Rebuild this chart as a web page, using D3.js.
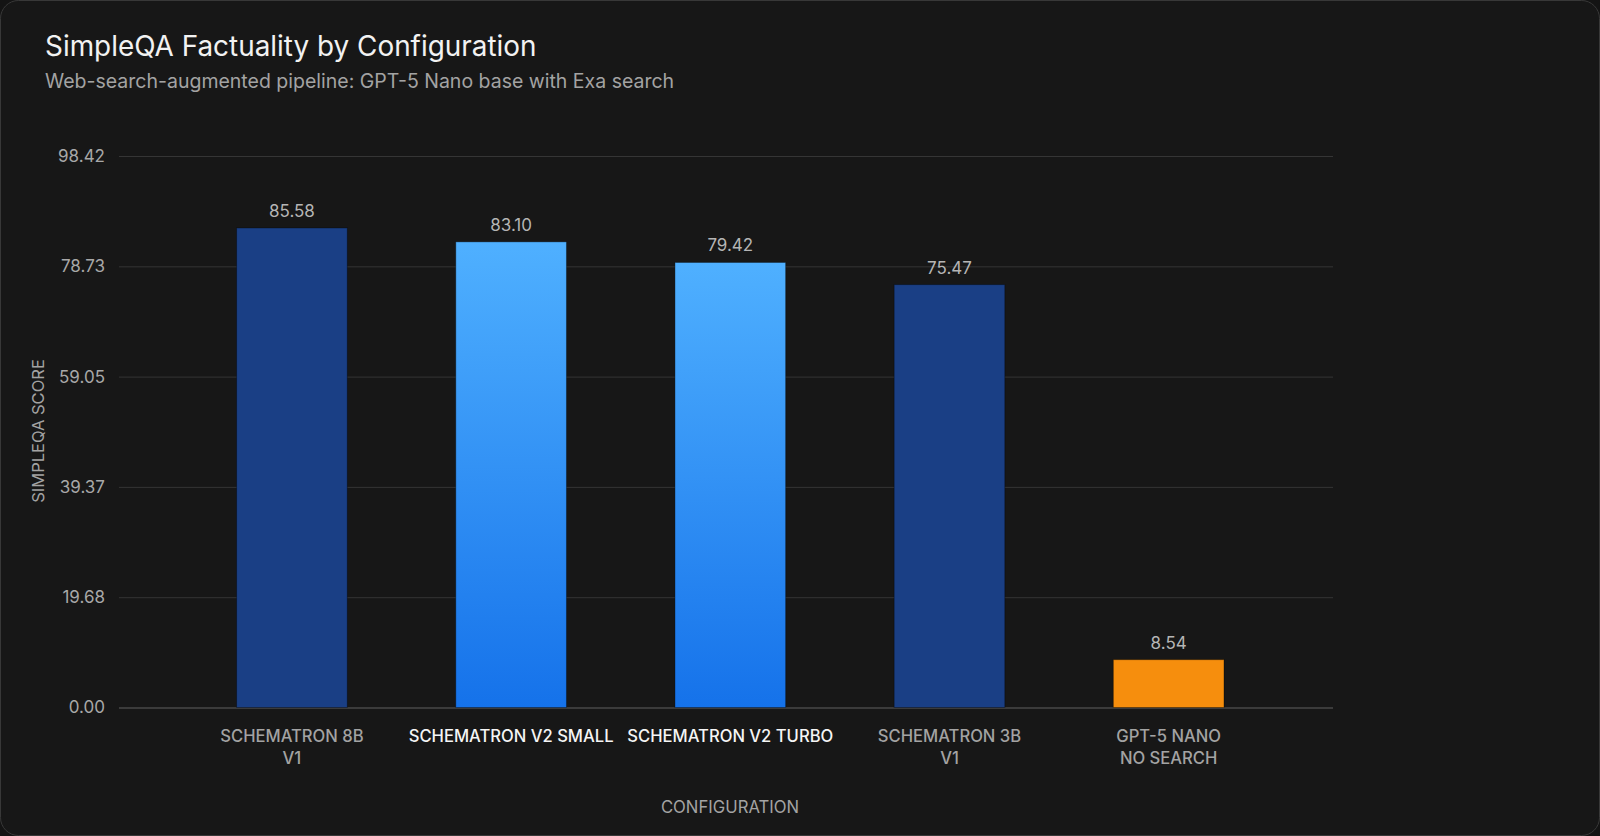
<!DOCTYPE html>
<html>
<head>
<meta charset="utf-8">
<script src="https://cdn.jsdelivr.net/npm/d3@7"></script>
<style>
  html, body { margin: 0; padding: 0; background: #141414; }
  svg { display: block; font-family: Inter, "Noto Sans", sans-serif; }
</style>
</head>
<body>
<svg id="chart" width="1600" height="836"></svg>
<script>
// chart data
var configs = ['SCHEMATRON 8B|V1', 'SCHEMATRON V2 SMALL', 'SCHEMATRON V2 TURBO', 'SCHEMATRON 3B|V1', 'GPT-5 NANO|NO SEARCH'];
var scores = [85.58, 83.10, 79.42, 75.47, 8.54];
var kinds = ['v1', 'v2', 'v2', 'v1', 'base'];
var yTicks = [0, 19.68, 39.37, 59.05, 78.73, 98.42];

var svg = d3.select('#chart');

// card
svg.append('rect')
  .attr('x', 0.5).attr('y', 0.5)
  .attr('width', 1599).attr('height', 835)
  .attr('rx', 18)
  .attr('fill', '#171717')
  .attr('stroke', '#383838');

var defs = svg.append('defs');
var grad = defs.append('linearGradient')
  .attr('id', 'v2grad')
  .attr('x1', 0).attr('y1', 0).attr('x2', 0).attr('y2', 1);
grad.append('stop').attr('offset', '0%').attr('stop-color', '#4fb0ff');
grad.append('stop').attr('offset', '100%').attr('stop-color', '#1572ea');

var fills = { v1: '#1a3f85', v2: 'url(#v2grad)', base: '#f68e0d' };

svg.append('text')
  .attr('x', 45).attr('y', 56)
  .attr('fill', '#f2f2f2')
  .attr('font-size', 27.9)
  .attr('font-weight', 400)
  .text('SimpleQA Factuality by Configuration');

svg.append('text')
  .attr('x', 45).attr('y', 88)
  .attr('fill', '#a3a3a3')
  .attr('font-size', 19.5)
  .text('Web-search-augmented pipeline: GPT-5 Nano base with Exa search');

var y = d3.scaleLinear()
  .domain([0, d3.max(yTicks)])
  .range([707.5, 156]);

var x = d3.scaleBand()
  .domain(configs)
  .range([181.8, 1278.8])
  .paddingInner(0.495)
  .paddingOuter(0.25);

// grid lines
var yAxis = d3.axisLeft(y)
  .tickValues(yTicks)
  .tickSize(-(1333 - 119))
  .tickFormat(d3.format('.2f'));

var gy = svg.append('g')
  .attr('transform', 'translate(119,0)')
  .call(yAxis);
gy.select('.domain').remove();
gy.selectAll('.tick line')
  .attr('stroke', function(d) { return d === 0 ? '#484848' : '#353535'; })
  .attr('stroke-width', function(d) { return d === 0 ? 1.5 : 1; });
gy.selectAll('.tick text')
  .attr('x', -14)
  .attr('fill', '#a8a8a8')
  .attr('font-size', 17)
  .attr('font-family', 'Inter, sans-serif');

// bars
svg.append('g').selectAll('rect')
  .data(scores)
  .join('rect')
  .attr('x', function(d, i) { return x(configs[i]); })
  .attr('y', function(d) { return y(d); })
  .attr('width', x.bandwidth())
  .attr('height', function(d) { return y(0) - y(d); })
  .attr('fill', function(d, i) { return fills[kinds[i]]; })
  .attr('stroke', 'rgba(0,0,0,0.35)')
  .attr('stroke-width', 1);

// value labels
svg.append('g').selectAll('text')
  .data(scores)
  .join('text')
  .attr('x', function(d, i) { return x(configs[i]) + x.bandwidth() / 2; })
  .attr('y', function(d) { return y(d) - 11; })
  .attr('text-anchor', 'middle')
  .attr('fill', '#b5b5b5')
  .attr('font-size', 17)
  .attr('font-weight', 400)
  .text(function(d) { return d3.format('.2f')(d); });

// category labels
var xAxis = d3.axisBottom(x).tickSize(0).tickFormat('');
var gx = svg.append('g')
  .attr('transform', 'translate(0,' + y(0) + ')')
  .call(xAxis);
gx.select('.domain').remove();
gx.selectAll('.tick').each(function(d, i) {
  var hot = kinds[i] === 'v2';
  var t = d3.select(this).append('text')
    .attr('text-anchor', 'middle')
    .attr('fill', hot ? '#f5f5f5' : '#a3a3a3')
    .attr('font-size', 16.6)
    .attr('font-weight', 500)
    .attr('font-family', 'Inter, sans-serif');
  d.split('|').forEach(function(line, j) {
    t.append('tspan')
      .attr('x', 0)
      .attr('y', 34 + j * 22)
      .text(line);
  });
});

svg.append('text')
  .attr('x', 730).attr('y', 813)
  .attr('text-anchor', 'middle')
  .attr('fill', '#a3a3a3')
  .attr('font-size', 16.7)
  .attr('font-weight', 400)
  .text('CONFIGURATION');

svg.append('text')
  .attr('transform', 'translate(44,431) rotate(-90)')
  .attr('text-anchor', 'middle')
  .attr('fill', '#a3a3a3')
  .attr('font-size', 16.5)
  .attr('font-weight', 400)
  .text('SIMPLEQA SCORE');
</script>
</body>
</html>
